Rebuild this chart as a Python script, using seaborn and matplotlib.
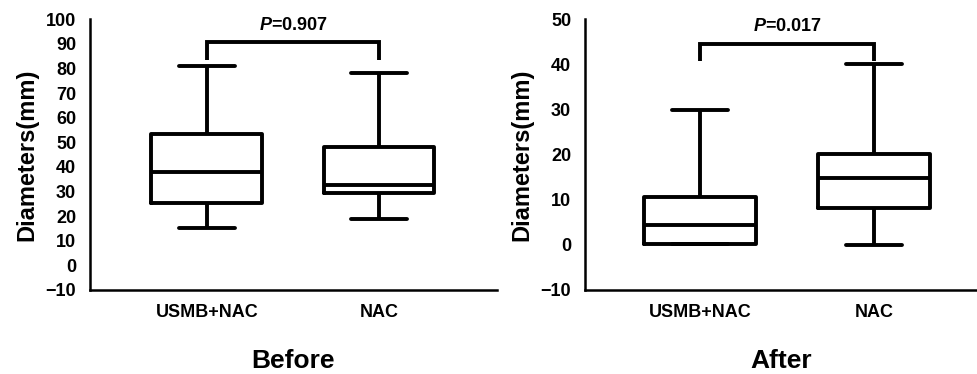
import matplotlib
matplotlib.use("Agg")
import matplotlib.pyplot as plt
import seaborn as sns
import pandas as pd

# five-number summaries: min, q1, median, q3, max
groups = ["USMB+NAC", "NAC"]
before_usmb = [15, 25.5, 38, 53.3, 81]
before_nac = [19, 29.5, 32.7, 48.3, 78]
after_usmb = [0.3, 0.3, 4.4, 10.6, 30]
after_nac = [0, 8.2, 14.9, 20.2, 40]

p_labels = ["0.907", "0.017"]
bracket_top = [90.7, 44.6]
bracket_low = [83.3, 40.8]
panel_titles = ["Before", "After"]
yticks = [list(range(-10, 101, 10)), list(range(-10, 51, 10))]

sns.set_style("white")
plt.rcParams["font.family"] = ["Liberation Sans", "DejaVu Sans"]
plt.rcParams["font.weight"] = "bold"
plt.rcParams["text.color"] = "black"
plt.rcParams["axes.labelcolor"] = "black"
plt.rcParams["mathtext.fontset"] = "custom"
plt.rcParams["mathtext.it"] = "Liberation Sans:italic:bold"
plt.rcParams["mathtext.rm"] = "Liberation Sans:bold"


def long_frame(a, b):
    return pd.DataFrame({
        "group": [groups[0]] * len(a) + [groups[1]] * len(b),
        "diam": a + b,
    })


fig = plt.figure(figsize=(9.77, 3.74), dpi=100)
ax1 = fig.add_axes([0.0921, 0.2246, 0.4166, 0.7238])
ax2 = fig.add_axes([0.5988, 0.2246, 0.4012, 0.7238])

frames = [long_frame(before_usmb, before_nac), long_frame(after_usmb, after_nac)]
xlims = [(-0.680, 1.686), (-0.661, 1.592)]

for i, (ax, df) in enumerate(zip([ax1, ax2], frames)):
    sns.boxplot(data=df, x="group", y="diam", order=groups, ax=ax,
                whis=(0, 100), width=0.645, fill=False, color="black",
                linecolor="black", linewidth=2.8, showfliers=False)
    # significance bracket
    ax.plot([0, 0, 1, 1],
            [bracket_low[i], bracket_top[i], bracket_top[i], bracket_low[i]],
            color="black", lw=2.8, solid_capstyle="butt", solid_joinstyle="miter")
    ax.text(0.5, bracket_top[i] + (yticks[i][-1] - yticks[i][0]) * 0.062,
            "$P$=" + p_labels[i], ha="center", va="center", fontsize=13,
            fontweight="bold", color="black")
    ax.set_ylim(yticks[i][0], yticks[i][-1])
    ax.set_yticks(yticks[i])
    ax.set_xlim(*xlims[i])
    ax.set_ylabel("Diameters(mm)", fontsize=17, fontweight="bold", labelpad=5,
                  color="black")
    ax.set_xlabel(panel_titles[i], fontsize=19, fontweight="bold", labelpad=20,
                  color="black")
    sns.despine(ax=ax)
    for s in ["left", "bottom"]:
        ax.spines[s].set_linewidth(1.8)
        ax.spines[s].set_color("black")
    ax.tick_params(axis="both", direction="out", length=7, width=1.8,
                   labelsize=13, colors="black", pad=3)
    for lab in ax.get_xticklabels() + ax.get_yticklabels():
        lab.set_fontweight("bold")

fig.savefig("out.png", dpi=100, facecolor="white")
